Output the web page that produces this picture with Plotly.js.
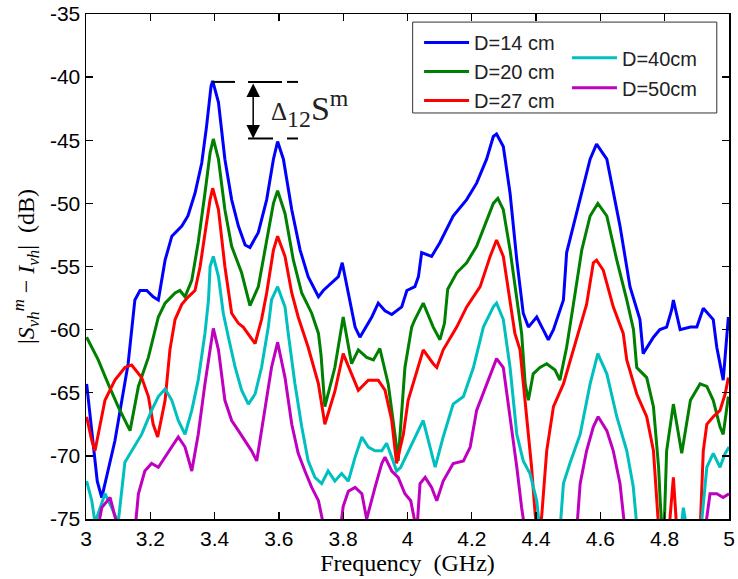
<!DOCTYPE html>
<html>
<head>
<meta charset="utf-8">
<script src="https://cdn.plot.ly/plotly-3.0.1.min.js"></script>
<style>html,body{margin:0;padding:0;background:#fff;}#chart{width:738px;height:579px;}</style>
</head>
<body>
<div id="chart"></div>
<script>
// ---- data (frequency in GHz, level in dB) ----
const seriesNames = ["D=14 cm", "D=20 cm", "D=27 cm", "D=40cm", "D=50cm"];

const f14 = [3.002,3.020,3.035,3.049,3.090,3.131,3.152,3.168,3.189,3.209,3.225,3.246,3.267,3.298,3.317,3.339,3.360,3.375,3.389,3.394,3.412,3.432,3.453,3.474,3.495,3.510,3.536,3.562,3.583,3.596,3.614,3.640,3.666,3.691,3.723,3.738,3.764,3.785,3.797,3.816,3.837,3.852,3.889,3.909,3.930,3.951,3.982,3.998,4.023,4.034,4.044,4.075,4.101,4.142,4.184,4.215,4.246,4.267,4.277,4.298,4.319,4.340,4.360,4.376,4.402,4.422,4.438,4.454,4.485,4.495,4.537,4.568,4.588,4.620,4.661,4.692,4.723,4.733,4.765,4.785,4.806,4.822,4.827,4.848,4.880,4.900,4.920,4.951,4.962,4.982,4.998];
const s14 = [-64.3,-68.5,-72.0,-73.3,-68.8,-62.7,-57.65,-56.9,-56.9,-57.4,-57.65,-54.5,-52.6,-51.8,-51.0,-49.2,-46.8,-43.9,-40.7,-40.3,-42.0,-46.5,-49.7,-51.8,-53.3,-53.5,-52.3,-49.7,-46.5,-45.1,-46.5,-50.5,-53.7,-55.8,-57.4,-56.9,-56.3,-55.8,-54.7,-57.1,-59.8,-60.6,-59.0,-57.9,-58.5,-58.8,-58.2,-56.9,-56.6,-55.8,-53.9,-54.2,-53.1,-51.0,-49.7,-48.4,-46.5,-44.7,-44.5,-45.5,-49.2,-54.5,-58.7,-59.8,-59.0,-60.0,-60.8,-60.0,-57.65,-53.9,-49.7,-46.5,-45.3,-46.5,-51.8,-56.6,-59.2,-61.9,-60.6,-60.0,-59.8,-58.4,-57.65,-60.0,-59.8,-59.8,-58.3,-59.2,-61.4,-64.0,-59.0];

const f20 = [3.002,3.038,3.069,3.100,3.137,3.163,3.194,3.225,3.246,3.277,3.292,3.308,3.329,3.349,3.370,3.386,3.396,3.412,3.432,3.453,3.484,3.505,3.510,3.536,3.562,3.583,3.596,3.619,3.645,3.671,3.702,3.723,3.731,3.743,3.774,3.800,3.826,3.847,3.873,3.894,3.914,3.940,3.961,3.971,3.992,4.013,4.023,4.049,4.080,4.101,4.115,4.125,4.153,4.184,4.215,4.246,4.267,4.281,4.298,4.319,4.340,4.355,4.366,4.376,4.391,4.412,4.433,4.459,4.474,4.495,4.516,4.542,4.568,4.592,4.620,4.651,4.682,4.703,4.713,4.744,4.765,4.781,4.786,4.792,4.798,4.806,4.827,4.848,4.853,4.880,4.910,4.931,4.951,4.972,4.982,4.998];
const s20 = [-60.6,-62.4,-64.3,-66.1,-68.0,-64.5,-62.2,-59.0,-57.9,-57.1,-56.9,-57.4,-56.1,-53.1,-49.2,-46.0,-44.9,-46.5,-50.5,-53.4,-55.5,-57.65,-58.1,-56.6,-53.1,-50.0,-49.0,-50.8,-54.5,-57.1,-58.7,-60.3,-62.0,-66.1,-63.0,-59.0,-62.7,-61.6,-62.2,-62.4,-61.5,-64.3,-68.3,-70.4,-63.0,-59.8,-59.2,-57.9,-59.8,-60.8,-59.5,-56.8,-55.5,-54.7,-53.4,-51.3,-50.0,-49.6,-50.5,-53.7,-57.65,-60.3,-64.3,-65.6,-63.5,-63.0,-62.7,-63.2,-64.0,-61.4,-58.0,-53.7,-51.0,-50.0,-51.0,-54.5,-57.65,-60.0,-63.0,-63.8,-66.1,-70.9,-73.55,-76.0,-76.0,-69.6,-65.9,-69.0,-69.8,-65.6,-64.3,-64.5,-65.6,-67.7,-68.3,-65.3];

const f27 = [3.002,3.018,3.028,3.059,3.090,3.121,3.142,3.173,3.194,3.209,3.223,3.246,3.261,3.277,3.298,3.318,3.339,3.355,3.370,3.386,3.394,3.412,3.432,3.453,3.474,3.489,3.526,3.546,3.562,3.583,3.596,3.619,3.640,3.660,3.691,3.723,3.743,3.774,3.800,3.826,3.847,3.878,3.909,3.930,3.951,3.966,3.987,4.002,4.023,4.049,4.080,4.091,4.111,4.153,4.184,4.226,4.257,4.277,4.298,4.319,4.334,4.350,4.371,4.386,4.397,4.403,4.412,4.417,4.433,4.454,4.485,4.516,4.557,4.578,4.588,4.609,4.640,4.671,4.682,4.713,4.744,4.765,4.777,4.782,4.813,4.827,4.838,4.910,4.920,4.931,4.951,4.972,4.988,4.998];
const s27 = [-66.9,-68.8,-69.6,-65.6,-64.0,-63.0,-62.8,-63.8,-65.3,-67.5,-68.5,-65.6,-61.6,-59.2,-58.0,-57.4,-56.9,-55.0,-52.4,-49.7,-48.8,-50.5,-55.0,-58.7,-59.5,-59.8,-61.1,-59.2,-57.1,-53.7,-52.6,-54.2,-57.1,-59.0,-61.4,-64.3,-67.5,-64.9,-61.9,-63.5,-64.8,-64.0,-64.0,-64.8,-67.2,-70.6,-68.3,-65.6,-63.8,-61.6,-62.7,-63.0,-61.6,-59.8,-58.2,-56.6,-54.2,-52.9,-54.2,-57.65,-60.3,-61.6,-66.9,-70.9,-74.6,-76.0,-76.0,-74.9,-69.6,-66.1,-64.3,-61.6,-58.0,-54.7,-54.5,-55.3,-58.2,-60.3,-62.4,-65.1,-66.9,-69.6,-73.55,-76.0,-76.0,-71.7,-76.0,-76.0,-69.6,-67.5,-66.9,-66.4,-65.1,-63.8];

const f40 = [3.002,3.018,3.028,3.059,3.080,3.100,3.121,3.142,3.173,3.204,3.225,3.246,3.267,3.287,3.308,3.329,3.349,3.370,3.381,3.386,3.396,3.412,3.427,3.443,3.464,3.484,3.505,3.526,3.546,3.567,3.577,3.596,3.619,3.629,3.650,3.671,3.691,3.712,3.733,3.753,3.774,3.795,3.816,3.837,3.858,3.878,3.899,3.920,3.935,3.951,3.966,3.979,4.008,4.039,4.049,4.070,4.086,4.111,4.142,4.174,4.205,4.236,4.267,4.277,4.298,4.319,4.340,4.360,4.381,4.402,4.412,4.474,4.485,4.505,4.537,4.568,4.592,4.620,4.651,4.682,4.702,4.715,4.850,4.858,4.870,4.912,4.931,4.951,4.972,4.988,5.000];
const s40 = [-72.0,-73.55,-75.3,-73.0,-74.1,-75.3,-70.5,-69.6,-68.3,-66.4,-65.3,-64.7,-65.6,-67.2,-68.3,-66.4,-64.0,-60.3,-57.65,-55.0,-54.2,-55.8,-58.7,-60.6,-63.0,-64.8,-65.9,-65.1,-63.0,-59.8,-57.65,-56.6,-58.2,-60.3,-64.3,-67.7,-70.4,-71.7,-72.2,-71.2,-72.0,-71.4,-72.0,-70.1,-68.5,-69.3,-69.6,-69.6,-69.0,-70.1,-71.2,-70.9,-69.3,-67.7,-67.2,-69.3,-70.9,-68.5,-65.9,-65.3,-63.0,-59.8,-58.2,-57.9,-59.2,-63.0,-68.3,-70.4,-71.4,-73.55,-76.0,-76.0,-72.2,-70.6,-68.3,-64.3,-61.9,-63.5,-66.9,-69.6,-72.4,-76.0,-76.0,-74.1,-76.0,-76.0,-70.9,-69.8,-70.9,-69.8,-69.3];

const f50 = [3.002,3.035,3.049,3.075,3.095,3.105,3.152,3.163,3.183,3.204,3.225,3.246,3.267,3.287,3.308,3.329,3.349,3.370,3.396,3.412,3.432,3.453,3.474,3.495,3.515,3.531,3.557,3.577,3.596,3.619,3.640,3.660,3.681,3.702,3.723,3.743,3.790,3.800,3.816,3.837,3.858,3.873,3.899,3.920,3.930,3.951,3.971,3.992,4.010,4.029,4.039,4.055,4.075,4.091,4.111,4.142,4.174,4.195,4.215,4.246,4.277,4.298,4.319,4.340,4.355,4.366,4.526,4.537,4.557,4.578,4.593,4.620,4.640,4.661,4.677,4.925,4.941,4.962,4.982,5.000];
const s50 = [-76.0,-76.0,-74.1,-73.3,-75.3,-76.0,-76.0,-73.0,-71.2,-70.6,-70.9,-70.1,-69.3,-68.5,-69.3,-71.2,-68.3,-64.3,-59.9,-61.6,-65.6,-67.2,-68.0,-68.8,-69.6,-70.4,-66.4,-63.0,-61.0,-63.8,-67.5,-69.8,-71.2,-72.5,-73.55,-76.0,-76.0,-74.0,-72.8,-72.5,-73.0,-75.0,-72.5,-70.6,-70.1,-71.2,-71.7,-73.0,-73.55,-76.0,-72.2,-71.7,-72.5,-73.55,-72.0,-70.6,-70.4,-69.3,-66.4,-64.3,-62.3,-63.0,-66.9,-70.9,-74.1,-76.0,-76.0,-72.2,-69.6,-67.7,-66.9,-68.0,-69.6,-72.2,-76.0,-76.0,-73.0,-73.0,-73.3,-73.0];

const xTickVals = [3, 3.2, 3.4, 3.6, 3.8, 4, 4.2, 4.4, 4.6, 4.8, 5];
const xTickText = ["3", "3.2", "3.4", "3.6", "3.8", "4", "4.2", "4.4", "4.6", "4.8", "5"];
const yTickVals = [-75, -70, -65, -60, -55, -50, -45, -40, -35];
const yTickText = ["-75", "-70", "-65", "-60", "-55", "-50", "-45", "-40", "-35"];

// Δ12S^m marker levels (peak at 3.4 GHz and peak at 3.6 GHz of D=14 cm)
const deltaTop = -40.38, deltaBottom = -44.86;

const colors = ["#0000ff", "#008000", "#ff0000", "#00bfbf", "#bf00bf"];
const xs = [f14, f20, f27, f40, f50];
const ys = [s14, s20, s27, s40, s50];
const legendOf = ["legend", "legend", "legend", "legend2", "legend2"];

const traces = xs.map((x, i) => ({
  x: x, y: ys[i], type: "scatter", mode: "lines", name: seriesNames[i],
  line: {color: colors[i], width: 3},
  legend: legendOf[i], legendgroup: "g" + i
}));

const sans = "Liberation Sans, Arial, sans-serif";
const serif = "Liberation Serif, Times New Roman, serif";

const dashLine = (x0, x1, y) => ({type: "line", xref: "x", yref: "y", x0: x0, x1: x1, y0: y, y1: y, line: {color: "#000", width: 2}});

const layout = {
  width: 738, height: 579,
  margin: {l: 86, r: 9, t: 14, b: 60},
  paper_bgcolor: "#fff", plot_bgcolor: "#fff",
  showlegend: true,
  xaxis: {
    range: [3, 5], tickvals: xTickVals, ticktext: xTickText,
    ticks: "inside", ticklen: 7, tickwidth: 1.3, tickcolor: "#000",
    showline: true, linecolor: "#000", linewidth: 1.5, mirror: "allticks",
    showgrid: false, zeroline: false,
    tickfont: {family: sans, size: 21, color: "#000"},
    title: {text: "Frequency\u00a0\u00a0(GHz)", font: {family: serif, size: 24, color: "#000"}, standoff: 4}
  },
  yaxis: {
    range: [-75, -35], tickvals: yTickVals, ticktext: yTickText,
    ticks: "inside", ticklen: 7, tickwidth: 1.3, tickcolor: "#000",
    showline: true, linecolor: "#000", linewidth: 1.5, mirror: "allticks",
    showgrid: false, zeroline: false,
    tickfont: {family: sans, size: 21, color: "#000"},
    title: {text: "|<i>S</i><sub><i>vh</i></sub><sup><i>m</i></sup>\u00a0\u2212\u00a0<i>I</i><sub><i>vh</i></sub>|\u00a0\u00a0(dB)", font: {family: serif, size: 24, color: "#000"}, standoff: 8}
  },
  legend: {
    x: 0.518, y: 0.982, xanchor: "left", yanchor: "top",
    bgcolor: "rgba(0,0,0,0)", borderwidth: 0,
    font: {family: sans, size: 20, color: "#222"},
    tracegroupgap: 0, itemwidth: 45
  },
  legend2: {
    x: 0.748, y: 0.952, xanchor: "left", yanchor: "top",
    bgcolor: "rgba(0,0,0,0)", borderwidth: 0,
    font: {family: sans, size: 20, color: "#222"},
    tracegroupgap: 1, itemwidth: 45
  },
  shapes: [
    {type: "rect", xref: "paper", yref: "paper", x0: 0.508, x1: 0.981, y0: 0.804, y1: 0.984,
     fillcolor: "#fff", line: {color: "#333", width: 1}, layer: "above"},
    dashLine(3.394, 3.4635, deltaTop), dashLine(3.504, 3.6097, deltaTop), dashLine(3.6252, 3.6594, deltaTop),
    dashLine(3.504, 3.5816, deltaBottom), dashLine(3.6252, 3.6594, deltaBottom)
  ],
  annotations: [
    {x: 3.520, y: deltaBottom, ax: 3.520, ay: deltaTop, xref: "x", yref: "y", axref: "x", ayref: "y",
     text: "", showarrow: true, arrowhead: 2, startarrowhead: 2, arrowside: "end+start",
     arrowsize: 1.8, startarrowsize: 1.8, arrowwidth: 1.5, arrowcolor: "#000", standoff: 0, startstandoff: 0},
    {x: 3.568, y: -42.5, xref: "x", yref: "y", xanchor: "left", yanchor: "middle", showarrow: false,
     text: "<span style='font-size:25px'>\u0394</span><sub>12</sub>S<sup>m</sup>",
     font: {family: serif, size: 34, color: "#222"}}
  ]
};

Plotly.newPlot("chart", traces, layout, {staticPlot: true, displayModeBar: false});
</script>
</body>
</html>
